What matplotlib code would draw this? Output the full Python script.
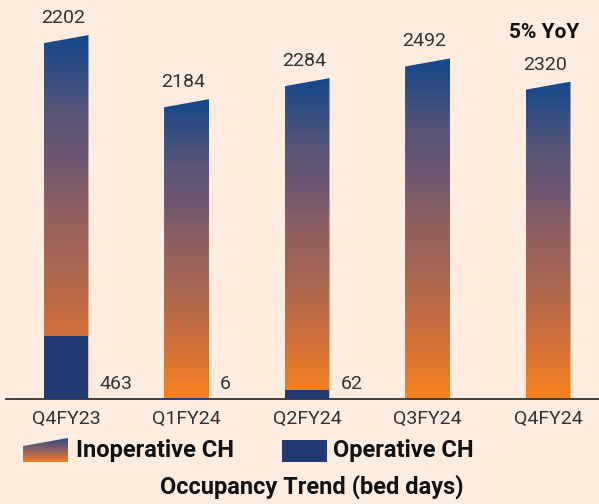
import numpy as np
import matplotlib.pyplot as plt
from matplotlib.patches import Polygon, Rectangle
from matplotlib.colors import LinearSegmentedColormap

plt.rcParams['font.family'] = ['Roboto', 'DejaVu Sans']

quarters = ['Q4FY23', 'Q1FY24', 'Q2FY24', 'Q3FY24', 'Q4FY24']
inoperative = [2202, 2184, 2284, 2492, 2320]
operative = [463, 6, 62, 0, 0]
yoy_label = '5% YoY'

bg = '#FDEDE1'
navy = '#213B72'
text_col = '#333333'
grad_cmap = LinearSegmentedColormap.from_list('occ', [
    (0.0, '#F7821F'), (0.18, '#D0703A'), (0.37, '#A86652'), (0.55, '#8A5F64'),
    (0.65, '#6F5870'), (0.78, '#5A5577'), (1.0, '#14498B')])

W, H = 599, 504
fig = plt.figure(figsize=(W / 100, H / 100), dpi=100, facecolor=bg)
ax = fig.add_axes([6 / W, 105.3 / H, 593 / W, 398.7 / H])
ax.patch.set_alpha(0)

x = np.arange(len(quarters))
w = 0.373    # bar width
s = 30       # half-height of the slanted top
grad = np.linspace(0, 1, 256).reshape(-1, 1)

for xi, ino, op in zip(x, inoperative, operative):
    total = ino + op
    poly = Polygon([(xi - w / 2, 0), (xi + w / 2, 0), (xi + w / 2, total + s),
                    (xi - w / 2, total - s)], closed=True, fc='none', ec='none')
    ax.add_patch(poly)
    im = ax.imshow(grad, extent=[xi - w / 2, xi + w / 2, 0, total + s], origin='lower',
                   cmap=grad_cmap, aspect='auto', interpolation='bilinear')
    im.set_clip_path(poly)
    if op:
        ax.bar(xi, op, w, color=navy, zorder=3)
        ax.annotate(str(op), (xi + w / 2, 0), xytext=(11, 6), textcoords='offset pixels',
                    ha='left', va='bottom', fontsize=14, color=text_col)
    ax.annotate(str(ino), (xi, total + s), xytext=(-3, 8), textcoords='offset pixels',
                ha='center', va='bottom', fontsize=14, color=text_col)

ax.annotate(yoy_label, (x[-1], inoperative[-1] + operative[-1] + s), xytext=(-4, 40),
            textcoords='offset pixels', ha='center', va='bottom', fontsize=15,
            fontweight='bold', color='#111111')

ax.set_xlim(-0.498, 4.423)
ax.set_ylim(0, 2955)
ax.set_xticks(x)
ax.set_xticklabels(quarters, fontsize=14, color=text_col)
ax.tick_params(axis='x', length=0, pad=8)
ax.set_yticks([])
for side in ['top', 'right', 'left']:
    ax.spines[side].set_visible(False)
ax.spines['bottom'].set_color(text_col)
ax.spines['bottom'].set_linewidth(1.3)

# legend + caption drawn in pixel space
lg = fig.add_axes([0, 0, 1, 1])
lg.axis('off')
icon = Polygon([(23, 462), (68, 462), (68, 438), (23, 446)], closed=True, fc='none', ec='none')
lg.add_patch(icon)
ic = lg.imshow(grad, extent=[23, 68, 462, 438], origin='lower',
               cmap=grad_cmap, aspect='auto', interpolation='bilinear')
ic.set_clip_path(icon)
lg.text(76, 451, 'Inoperative CH', fontsize=17, fontweight='bold', va='center', ha='left', color='#111111')
lg.add_patch(Rectangle((282, 440), 45, 22, fc=navy, ec='none'))
lg.text(333, 451, 'Operative CH', fontsize=17, fontweight='bold', va='center', ha='left', color='#111111')
lg.text(312, 487, 'Occupancy Trend (bed days)', fontsize=17, fontweight='bold',
        va='center', ha='center', color='#111111')
lg.set_xlim(0, W)
lg.set_ylim(H, 0)

fig.savefig('out.png', dpi=100, facecolor=bg)
